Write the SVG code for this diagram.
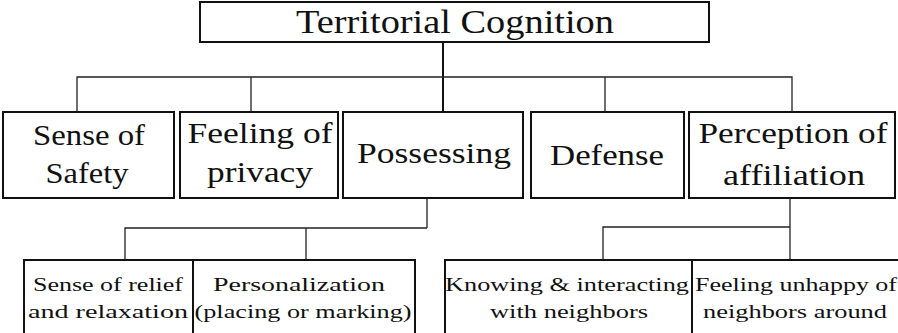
<svg xmlns="http://www.w3.org/2000/svg" width="898" height="333" viewBox="0 0 898 333">
  <style>
    .box { fill: #fff; stroke: #111; stroke-width: 2; }
    .wire { fill: none; stroke: #222; stroke-width: 1.3; }
    .stem { fill: none; stroke: #111; stroke-width: 2; }
    .lbl { fill: #111; text-anchor: middle; }
    .t0 { font-size: 34px; }
    .t1 { font-size: 30px; }
    .t2 { font-size: 19.5px; }
  </style>
  <rect width="898" height="333" fill="#fff"/>

  <!-- connectors -->
  <g id="connectors">
    <path class="stem" d="M443 42 V112"/>
    <path class="wire" d="M77 112 V77 H792 V112 M251 77 V112 M605 77 V112"/>
    <path class="wire" d="M427 198 V228 M125 260 V228 H427 M306 228 V260"/>
    <path class="wire" d="M790 198 V260 M603 260 V227 H790"/>
  </g>

  <g font-family="Liberation Serif, serif">
  <!-- root -->
  <g id="territorial-cognition">
    <rect class="box" x="200" y="2" width="509" height="40"/>
    <text class="lbl t0" x="455" y="33" textLength="318" lengthAdjust="spacingAndGlyphs">Territorial Cognition</text>
  </g>

  <!-- second level -->
  <g id="sense-of-safety">
    <rect class="box" x="3" y="112" width="171" height="86"/>
    <text class="lbl t1" x="89" y="145" textLength="112" lengthAdjust="spacingAndGlyphs">Sense of</text>
    <text class="lbl t1" x="87" y="183" textLength="83" lengthAdjust="spacingAndGlyphs">Safety</text>
  </g>
  <g id="feeling-of-privacy">
    <rect class="box" x="180" y="112" width="158" height="86"/>
    <text class="lbl t1" x="260" y="143" textLength="145" lengthAdjust="spacingAndGlyphs">Feeling of</text>
    <text class="lbl t1" x="260" y="182" textLength="106" lengthAdjust="spacingAndGlyphs">privacy</text>
  </g>
  <g id="possessing">
    <rect class="box" x="343" y="112" width="180" height="86"/>
    <text class="lbl t1" x="434" y="163" textLength="154" lengthAdjust="spacingAndGlyphs">Possessing</text>
  </g>
  <g id="defense">
    <rect class="box" x="531" y="112" width="153" height="86"/>
    <text class="lbl t1" x="607" y="165" textLength="114" lengthAdjust="spacingAndGlyphs">Defense</text>
  </g>
  <g id="perception-of-affiliation">
    <rect class="box" x="689" y="112" width="206" height="86"/>
    <text class="lbl t1" x="793" y="143" textLength="189" lengthAdjust="spacingAndGlyphs">Perception of</text>
    <text class="lbl t1" x="794" y="185" textLength="142" lengthAdjust="spacingAndGlyphs">affiliation</text>
  </g>

  <!-- third level: under Possessing -->
  <g id="relief-and-relaxation">
    <rect class="box" x="24" y="260" width="169" height="90"/>
    <text class="lbl t2" x="108" y="291" textLength="150" lengthAdjust="spacingAndGlyphs">Sense of relief</text>
    <text class="lbl t2" x="108" y="318" textLength="160" lengthAdjust="spacingAndGlyphs">and relaxation</text>
  </g>
  <g id="personalization">
    <rect class="box" x="193" y="260" width="222" height="90"/>
    <text class="lbl t2" x="299" y="291" textLength="172" lengthAdjust="spacingAndGlyphs">Personalization</text>
    <text class="lbl t2" x="303" y="318" textLength="217" lengthAdjust="spacingAndGlyphs">(placing or marking)</text>
  </g>

  <!-- third level: under Perception of affiliation -->
  <g id="knowing-neighbors">
    <rect class="box" x="445" y="260" width="247" height="90"/>
    <text class="lbl t2" x="567" y="291" textLength="244" lengthAdjust="spacingAndGlyphs">Knowing &amp; interacting</text>
    <text class="lbl t2" x="569" y="318" textLength="158" lengthAdjust="spacingAndGlyphs">with neighbors</text>
  </g>
  <g id="unhappy-of-neighbors">
    <rect class="box" x="692" y="260" width="220" height="90"/>
    <text class="lbl t2" x="796" y="291" textLength="202" lengthAdjust="spacingAndGlyphs">Feeling unhappy of</text>
    <text class="lbl t2" x="795" y="318" textLength="184" lengthAdjust="spacingAndGlyphs">neighbors around</text>
  </g>
  </g>
</svg>
